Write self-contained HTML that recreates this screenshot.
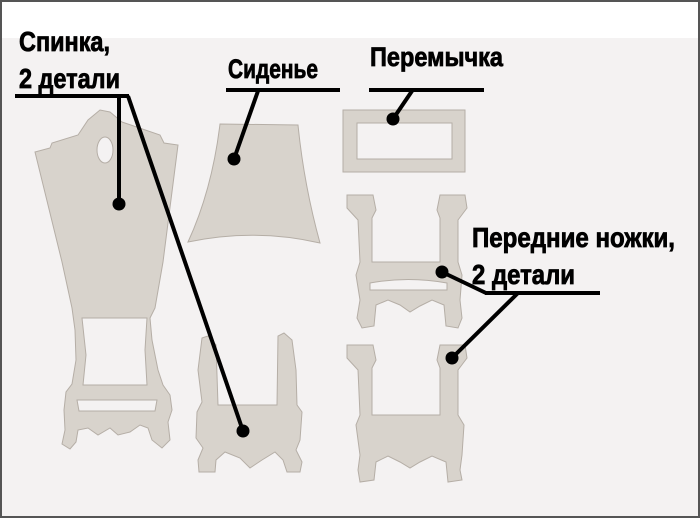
<!DOCTYPE html>
<html><head><meta charset="utf-8">
<style>
html,body{margin:0;padding:0;background:#fff;}
svg{display:block;}
text{font-family:"Liberation Sans Narrow","Liberation Sans",sans-serif;font-weight:bold;fill:#000;stroke:#000;stroke-width:0.8;}
</style></head>
<body>
<svg width="700" height="518" viewBox="0 0 700 518" xmlns="http://www.w3.org/2000/svg">
<rect x="0" y="0" width="700" height="518" fill="#f4f2f2"/>
<rect x="0" y="0" width="700" height="38" fill="#ffffff"/>
<g fill="#d8d3cc" stroke="#b5aea6" stroke-width="1">
<path fill-rule="evenodd" d="M35,152 L50,148 L52,143 L78,135 L88,120 L100,110 L110,112 L122,122 L160,135 L164,143 L178,145 L163,262 L155,308 L150,318 L152,340 L158,370 L163,385 L170,395 L172,410 L168,422 L170,440 L162,448 L152,440 L148,428 L140,425 L130,432 L118,435 L110,428 L98,435 L88,428 L78,430 L76,442 L70,449 L62,444 L65,430 L64,410 L66,392 L72,384 L76,360 L75,330 L72,308 L62,262 Z
M97,150 a8,13 0 1,0 16,0 a8,13 0 1,0 -16,0 Z
M82,318 L147,318 L145,350 L147,385 L83,385 L86,355 Z
M77,400 L157,400 L155,411 L79,411 Z"/>
<path d="M220,124 L298,125 Q304,185 320,243 Q255,228 188,242 Q212,190 220,124 Z"/>
<path d="M202,338 L208,336 L216,345 L218,405 L277,405 L278,336 L284,333 L292,340 L296,370 L297,405 L302,412 L300,440 L296,450 L302,462 L300,472 L287,472 L283,460 L275,452 L262,460 L250,468 L240,458 L225,452 L216,460 L215,472 L199,472 L198,460 L203,448 L196,438 L197,412 L202,402 L198,370 Z"/>
<path fill-rule="evenodd" d="M343,110 L465,110 L465,172 L343,172 Z M357,123 L452,123 L452,159 L357,159 Z"/>
<path fill-rule="evenodd" d="M347,195 L373,195 L376,210 L372,218 L372,262 L440,262 L440,218 L437,210 L440,195 L465,195 L467,208 L458,220 L458,262 L462,275 L460,300 L462,318 L458,328 L446,326 L444,305 L432,300 L420,306 L410,312 L400,305 L388,300 L376,305 L374,326 L362,328 L357,318 L360,300 L356,275 L360,262 L358,220 L347,208 Z
M370,283 Q408,276 447,283 L447,290 L370,290 Z"/>
<path d="M347,345 L373,345 L376,360 L372,368 L372,415 L440,415 L440,368 L437,360 L440,345 L465,345 L467,358 L458,370 L458,415 L464,425 L462,455 L460,470 L462,480 L448,482 L446,462 L432,456 L420,462 L410,468 L400,462 L388,456 L376,462 L374,480 L360,482 L358,470 L360,455 L356,425 L360,415 L358,370 L347,358 Z"/>
</g>
<g stroke="#000" stroke-width="4" fill="none" stroke-linecap="butt">
<line x1="15" y1="96" x2="129" y2="96"/>
<line x1="119" y1="96" x2="119" y2="204"/>
<line x1="128" y1="96" x2="243" y2="431"/>
<line x1="226" y1="90" x2="340" y2="90"/>
<line x1="258" y1="91" x2="234" y2="159"/>
<line x1="369" y1="90" x2="484" y2="90"/>
<line x1="412" y1="91" x2="393" y2="119"/>
<line x1="485" y1="293" x2="600" y2="293"/>
<line x1="486" y1="293" x2="442" y2="272"/>
<line x1="518" y1="293" x2="452" y2="358"/>
</g>
<g fill="#000">
<circle cx="119" cy="204" r="6.5"/>
<circle cx="243" cy="431" r="6.5"/>
<circle cx="234" cy="159" r="6.5"/>
<circle cx="393" cy="119" r="6.5"/>
<circle cx="442" cy="272" r="6.5"/>
<circle cx="452" cy="358" r="6.5"/>
</g>
<text x="19" y="51" font-size="28" textLength="91" lengthAdjust="spacingAndGlyphs">Спинка,</text>
<text x="19" y="88" font-size="28" textLength="101" lengthAdjust="spacingAndGlyphs">2 детали</text>
<text x="228" y="78" font-size="27" textLength="90" lengthAdjust="spacingAndGlyphs">Сиденье</text>
<text x="370" y="66" font-size="27" textLength="133" lengthAdjust="spacingAndGlyphs">Перемычка</text>
<text x="472" y="247" font-size="28" textLength="203" lengthAdjust="spacingAndGlyphs">Передние ножки,</text>
<text x="472" y="284" font-size="28" textLength="103" lengthAdjust="spacingAndGlyphs">2 детали</text>
<rect x="1" y="1" width="698" height="516" fill="none" stroke="#555" stroke-width="2"/>
</svg>
</body></html>
